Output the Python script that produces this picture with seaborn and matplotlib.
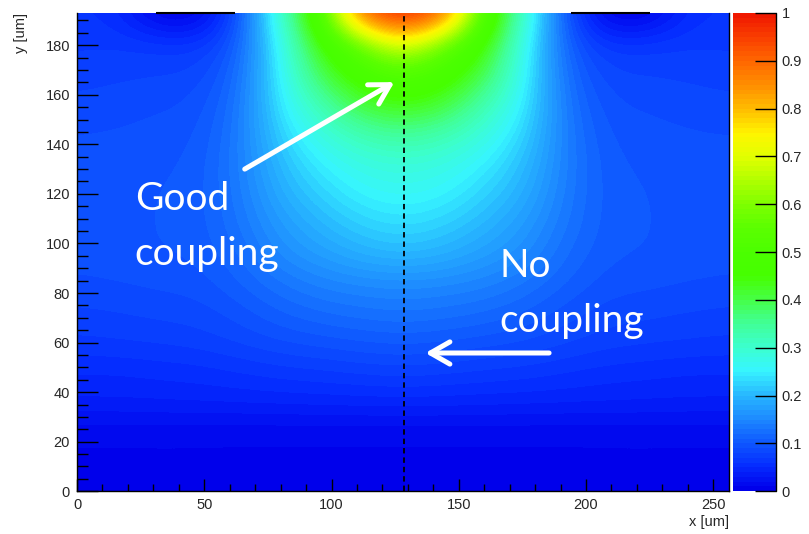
import numpy as np
import matplotlib
matplotlib.use("Agg")
import matplotlib.pyplot as plt
import seaborn as sns
from matplotlib.ticker import MultipleLocator

# field on a regular grid (x, y in um), rows from top (y=192) down to y=0
x_um = [0, 16, 32, 48, 64, 80, 96, 112, 128, 144, 160, 176, 192, 208, 224, 240, 256]
y_um = [192, 180, 168, 156, 144, 132, 120, 108, 96, 84, 72, 60, 48, 36, 24, 12, 0]
potential = [
    [0.062, 0.055, 0.000, 0.000, 0.090, 0.300, 0.520, 0.920, 1.000, 0.920, 0.520, 0.300, 0.090, 0.000, 0.000, 0.055, 0.062],
    [0.068, 0.070, 0.068, 0.065, 0.105, 0.265, 0.450, 0.580, 0.720, 0.580, 0.450, 0.265, 0.105, 0.065, 0.068, 0.070, 0.068],
    [0.075, 0.078, 0.080, 0.082, 0.118, 0.255, 0.400, 0.485, 0.530, 0.485, 0.400, 0.255, 0.118, 0.082, 0.080, 0.078, 0.075],
    [0.083, 0.085, 0.088, 0.092, 0.128, 0.245, 0.330, 0.415, 0.445, 0.415, 0.330, 0.245, 0.128, 0.092, 0.088, 0.085, 0.083],
    [0.090, 0.091, 0.094, 0.098, 0.135, 0.225, 0.285, 0.330, 0.350, 0.330, 0.285, 0.225, 0.135, 0.098, 0.094, 0.091, 0.090],
    [0.094, 0.095, 0.098, 0.102, 0.138, 0.205, 0.250, 0.280, 0.290, 0.280, 0.250, 0.205, 0.138, 0.102, 0.098, 0.095, 0.094],
    [0.096, 0.097, 0.100, 0.104, 0.135, 0.190, 0.225, 0.255, 0.265, 0.255, 0.225, 0.190, 0.135, 0.104, 0.100, 0.097, 0.096],
    [0.097, 0.098, 0.100, 0.104, 0.130, 0.170, 0.200, 0.225, 0.235, 0.225, 0.200, 0.170, 0.130, 0.104, 0.100, 0.098, 0.097],
    [0.095, 0.097, 0.100, 0.102, 0.120, 0.155, 0.175, 0.195, 0.205, 0.195, 0.175, 0.155, 0.120, 0.102, 0.100, 0.097, 0.095],
    [0.088, 0.090, 0.093, 0.095, 0.110, 0.130, 0.145, 0.152, 0.155, 0.152, 0.145, 0.130, 0.110, 0.095, 0.093, 0.090, 0.088],
    [0.078, 0.080, 0.083, 0.085, 0.095, 0.110, 0.120, 0.126, 0.130, 0.126, 0.120, 0.110, 0.095, 0.085, 0.083, 0.080, 0.078],
    [0.068, 0.070, 0.072, 0.075, 0.082, 0.090, 0.095, 0.100, 0.103, 0.100, 0.095, 0.090, 0.082, 0.075, 0.072, 0.070, 0.068],
    [0.050, 0.050, 0.053, 0.055, 0.060, 0.065, 0.068, 0.072, 0.075, 0.072, 0.068, 0.065, 0.060, 0.055, 0.053, 0.050, 0.050],
    [0.040, 0.040, 0.041, 0.042, 0.043, 0.044, 0.045, 0.046, 0.047, 0.046, 0.045, 0.044, 0.043, 0.042, 0.041, 0.040, 0.040],
    [0.012, 0.012, 0.012, 0.012, 0.011, 0.011, 0.011, 0.011, 0.011, 0.011, 0.011, 0.011, 0.011, 0.012, 0.012, 0.012, 0.012],
    [0.008, 0.008, 0.008, 0.008, 0.008, 0.008, 0.008, 0.008, 0.008, 0.008, 0.008, 0.008, 0.008, 0.008, 0.008, 0.008, 0.008],
    [0.004, 0.004, 0.004, 0.004, 0.004, 0.004, 0.004, 0.004, 0.004, 0.004, 0.004, 0.004, 0.004, 0.004, 0.004, 0.004, 0.004],
]
neighbour_x0 = [31, 194]
neighbour_x1 = [62, 225]
readout_x = 128.5
cbar_ticks = [0, 0.1, 0.2, 0.3, 0.4, 0.5, 0.6, 0.7, 0.8, 0.9, 1.0]
cbar_labels = ["0", "0.1", "0.2", "0.3", "0.4", "0.5", "0.6", "0.7", "0.8", "0.9", "1"]

# ROOT-like rainbow palette
palette_colors = ["#0000EB", "#052DFF", "#0F5AFF", "#1E8CFF", "#28B9FF", "#37F5FF",
                  "#3CFFCD", "#41FF96", "#46FF46", "#46FF00", "#4BFF00", "#5AFF00",
                  "#7DFF00", "#AFFF00", "#E1FF00", "#FFF500", "#FFBE00", "#FF9100",
                  "#FF6900", "#FA4100", "#F01900"]

sns.set_style("ticks")
plt.rcParams["font.family"] = ["Liberation Sans", "DejaVu Sans"]
plt.rcParams["axes.axisbelow"] = False

cmap = sns.blend_palette(palette_colors, as_cmap=True).resampled(100)

fig = plt.figure(figsize=(8.09, 5.34), dpi=100)
ax = fig.add_axes([0.0952, 0.0800, 0.8053, 0.8957])
cax = fig.add_axes([0.9060, 0.0800, 0.0532, 0.8957])

dx = x_um[1] - x_um[0]
dy = y_um[0] - y_um[1]
im = ax.imshow(potential, cmap=cmap, vmin=0, vmax=1, aspect="auto", origin="upper",
               interpolation="bicubic",
               extent=[min(x_um) - dx / 2, max(x_um) + dx / 2, min(y_um) - dy / 2, max(y_um) + dy / 2])
ax.set_xlim(0, 256)
ax.set_ylim(0, 193)

ax.axvline(readout_x, color="black", ls=(0, (3, 2.2)), lw=1.3)
ax.hlines([193, 193], neighbour_x0, neighbour_x1, color="black", lw=1.5, clip_on=False)

# annotations
txt_kw = dict(color="white", fontsize=28, family=["Lato", "DejaVu Sans"], va="baseline")
ax.text(22.7, 113.5, "Good", **txt_kw)
ax.text(22.7, 91.3, "coupling", **txt_kw)
ax.text(165.9, 86.5, "No", **txt_kw)
ax.text(165.9, 64.4, "coupling", **txt_kw)
arrow_kw = dict(arrowstyle="->,head_length=0.7,head_width=0.4", color="white", lw=3.6,
                mutation_scale=20, capstyle="round", joinstyle="round", shrinkA=0, shrinkB=0)
ax.annotate("", xy=(124.7, 165.1), xytext=(65.9, 130.0), arrowprops=arrow_kw)
ax.annotate("", xy=(136.9, 55.8), xytext=(185.5, 55.8), arrowprops=arrow_kw)

# axes styling, ROOT look
ax.xaxis.set_major_locator(MultipleLocator(50))
ax.xaxis.set_minor_locator(MultipleLocator(10))
ax.yaxis.set_major_locator(MultipleLocator(20))
ax.yaxis.set_minor_locator(MultipleLocator(5))
ax.tick_params(axis="x", which="major", direction="in", length=9, width=1, color="black",
               labelsize=10.5, pad=5, top=False)
ax.tick_params(axis="x", which="minor", direction="in", length=5, width=1, color="black", top=False)
ax.tick_params(axis="y", which="major", direction="in", length=15, width=1, color="black",
               labelsize=10.5, pad=5, right=False)
ax.tick_params(axis="y", which="minor", direction="in", length=8, width=1, color="black", right=False)
ax.spines["top"].set_visible(False)
for s in ["left", "bottom", "right"]:
    ax.spines[s].set_linewidth(1)
    ax.spines[s].set_color("black")

ax.set_xlabel("x [um]", loc="right", fontsize=10.5)
ax.xaxis.set_label_coords(1.0, -0.05)
ax.set_ylabel("y [um]", loc="top", fontsize=10.5)
ax.yaxis.set_label_coords(-0.075, 1.0)

cb = fig.colorbar(im, cax=cax, ticks=cbar_ticks)
cb.outline.set_visible(False)
cb.set_ticklabels(cbar_labels)
cb.minorticks_off()
cax.set_axisbelow(False)
cax.yaxis.set_ticks_position("right")
cax.tick_params(direction="in", length=15, width=1, color="black", labelsize=10.5, pad=4)
cax.plot([1, 1], [0, 1], transform=cax.transAxes, color="black", lw=1, clip_on=False)

fig.savefig("out.png", dpi=100)
